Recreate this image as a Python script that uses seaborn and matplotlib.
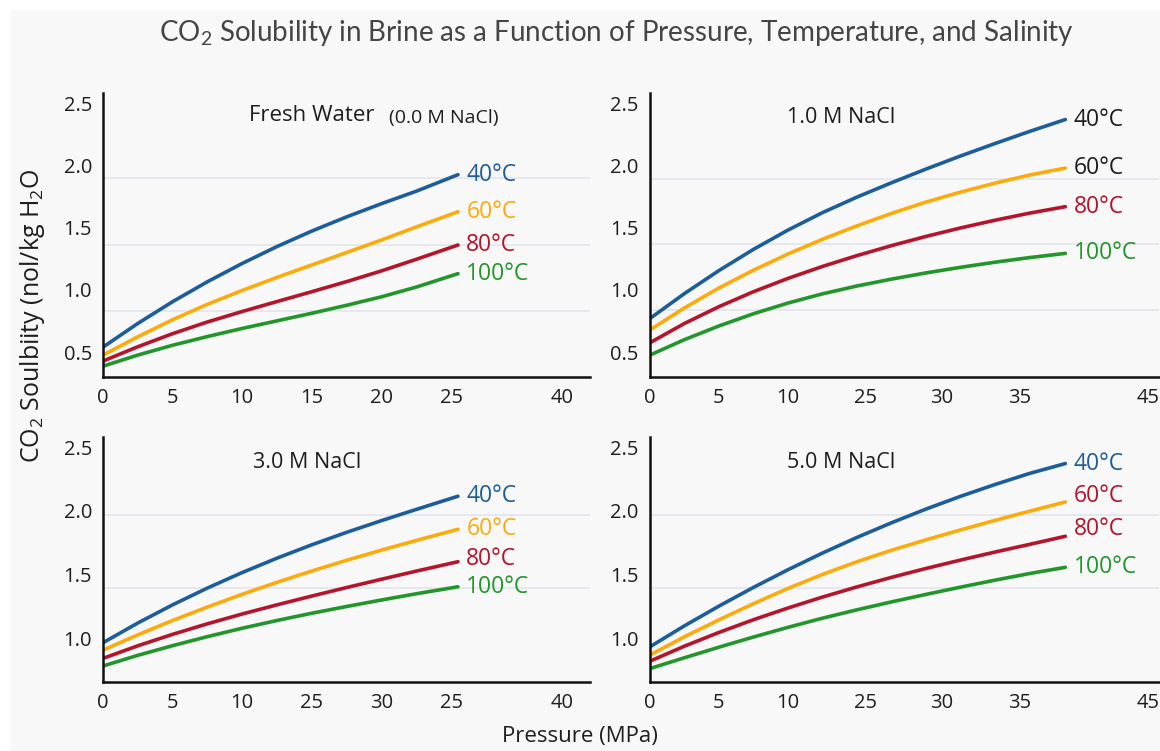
import seaborn as sns
import matplotlib.pyplot as plt
import matplotlib.patches as mpatches
import pandas as pd

# pressure positions along each panel's axis
pressure_left = [0, 2.5, 5, 7.5, 10, 12.5, 15, 17.5, 20, 22.5, 25.5]
pressure_right = [0, 2.5, 5, 7.5, 10, 12.5, 15, 17.5, 20, 22.5, 25, 27.5, 30.1]

temps = ["40°C", "60°C", "80°C", "100°C"]

# solubility curves (mol/kg H2O)
fresh = {
    "40°C": [0.54, 0.73, 0.905, 1.065, 1.212, 1.348, 1.472, 1.586, 1.692, 1.792, 1.925],
    "60°C": [0.476, 0.623, 0.76, 0.884, 0.995, 1.10, 1.20, 1.30, 1.40, 1.505, 1.627],
    "80°C": [0.428, 0.543, 0.648, 0.742, 0.826, 0.906, 0.985, 1.066, 1.152, 1.245, 1.36],
    "100°C": [0.387, 0.476, 0.555, 0.625, 0.69, 0.751, 0.812, 0.876, 0.944, 1.022, 1.13],
}
nacl_1 = {
    "40°C": [0.77, 0.97, 1.155, 1.325, 1.48, 1.62, 1.745, 1.86, 1.97, 2.075, 2.175, 2.272, 2.368],
    "60°C": [0.678, 0.855, 1.015, 1.158, 1.288, 1.406, 1.514, 1.614, 1.705, 1.785, 1.857, 1.922, 1.978],
    "80°C": [0.575, 0.73, 0.865, 0.985, 1.092, 1.188, 1.275, 1.355, 1.429, 1.497, 1.559, 1.616, 1.668],
    "100°C": [0.476, 0.60, 0.71, 0.808, 0.894, 0.968, 1.031, 1.086, 1.136, 1.181, 1.222, 1.259, 1.293],
}
nacl_3 = {
    "40°C": [0.963, 1.118, 1.261, 1.393, 1.515, 1.628, 1.733, 1.831, 1.923, 2.011, 2.115],
    "60°C": [0.905, 1.025, 1.138, 1.244, 1.344, 1.438, 1.527, 1.611, 1.691, 1.767, 1.855],
    "80°C": [0.84, 0.939, 1.029, 1.112, 1.189, 1.261, 1.33, 1.397, 1.462, 1.526, 1.60],
    "100°C": [0.78, 0.864, 0.94, 1.011, 1.077, 1.138, 1.195, 1.248, 1.299, 1.348, 1.403],
}
nacl_5 = {
    "40°C": [0.931, 1.096, 1.251, 1.398, 1.537, 1.668, 1.791, 1.906, 2.014, 2.114, 2.207, 2.294, 2.372],
    "60°C": [0.866, 1.01, 1.143, 1.27, 1.39, 1.50, 1.60, 1.69, 1.772, 1.85, 1.925, 1.997, 2.07],
    "80°C": [0.818, 0.936, 1.044, 1.144, 1.236, 1.322, 1.402, 1.477, 1.547, 1.613, 1.676, 1.736, 1.80],
    "100°C": [0.76, 0.845, 0.928, 1.008, 1.084, 1.156, 1.222, 1.284, 1.343, 1.40, 1.455, 1.507, 1.556],
}

xtick_labels_tl = ["0", "5", "10", "15", "20", "25", "40"]
xtick_labels_bl = ["0", "5", "10", "25", "30", "25", "40"]
xtick_labels_r = ["0", "5", "10", "25", "30", "35", "45"]
ytick_labels = ["0.5", "1.0", "1.5", "2.0", "2.5"]

BLUE, ORANGE, RED, GREEN, INK = "#1c5d9c", "#fdaa0c", "#b4152a", "#22962a", "#1e1e1e"
line_colors = {"40°C": BLUE, "60°C": ORANGE, "80°C": RED, "100°C": GREEN}

sns.set_theme(style="white")
plt.rcParams["font.family"] = ["Open Sans", "DejaVu Sans"]
plt.rcParams["mathtext.default"] = "regular"

bg = "#f8f8f8"
fig = plt.figure(figsize=(11.6, 7.51), dpi=100, facecolor="white")
fig.patches.append(mpatches.Rectangle((10 / 1160, 0), 1, 1 - 10 / 751, transform=fig.transFigure,
                                      facecolor=bg, edgecolor="none", zorder=-10))

ax_tl = fig.add_axes([0.0888, 0.498, 0.420, 0.378])
ax_tr = fig.add_axes([0.5603, 0.498, 0.439, 0.378])
ax_bl = fig.add_axes([0.0888, 0.092, 0.420, 0.326])
ax_br = fig.add_axes([0.5603, 0.092, 0.439, 0.326])

left_ticks = [0, 5, 10, 15, 20, 25, 32.95]
right_ticks = [0, 5, 10, 15.65, 21.15, 26.8, 36.1]

panels = [
    (ax_tl, fresh, pressure_left, xtick_labels_tl, left_ticks, 35.0,
     (0.30, 2.58), [1.895, 1.36, 0.83], [0.5, 1.0, 1.5, 2.0, 2.5],
     {"40°C": BLUE, "60°C": ORANGE, "80°C": RED, "100°C": GREEN}, [0, 0, 0, 0]),
    (ax_tr, nacl_1, pressure_right, xtick_labels_r, right_ticks, 36.9,
     (0.30, 2.58), [1.89, 1.37, 0.84], [0.5, 1.0, 1.5, 2.0, 2.5],
     {"40°C": INK, "60°C": INK, "80°C": RED, "100°C": GREEN}, [0, 0, 0, 0]),
    (ax_bl, nacl_3, pressure_left, xtick_labels_bl, left_ticks, 35.0,
     (0.655, 2.58), [1.97, 1.39], [1.0, 1.5, 2.0, 2.5],
     {"40°C": BLUE, "60°C": ORANGE, "80°C": RED, "100°C": GREEN}, [0, 0, 2, 0]),
    (ax_br, nacl_5, pressure_right, xtick_labels_r, right_ticks, 36.9,
     (0.655, 2.58), [1.97, 1.39], [1.0, 1.5, 2.0, 2.5],
     {"40°C": BLUE, "60°C": RED, "80°C": RED, "100°C": GREEN}, [0, 4, 5, 0]),
]

for ax, curves, xs, xlabels, xpos, xmax, ylim, grid_y, yticks, label_colors, dys in panels:
    ax.set_facecolor(bg)
    for gy in grid_y:
        ax.axhline(gy, color="#e2e7ee", lw=1.2, zorder=0)
    rows = []
    for t in temps:
        for x, v in zip(xs, curves[t]):
            rows.append({"pressure": x, "sol": v, "temp": t})
    df = pd.DataFrame(rows)
    sns.lineplot(data=df, x="pressure", y="sol", hue="temp", palette=line_colors,
                 lw=2.6, legend=False, ax=ax)
    for t, dy in zip(temps, dys):
        ax.annotate(t, (xs[-1], curves[t][-1]), xytext=(6, dy), textcoords="offset points",
                    ha="left", va="center", fontsize=16.5, color=label_colors[t])
    ax.set_xlim(0, xmax)
    ax.set_ylim(*ylim)
    ax.set_xticks(xpos)
    ax.set_xticklabels(xlabels, fontsize=14.5, color=INK)
    ax.set_yticks(yticks)
    ax.set_yticklabels(ytick_labels[-len(yticks):], fontsize=14.5, color=INK)
    ax.tick_params(length=0, pad=8)
    ax.set_xlabel("")
    ax.set_ylabel("")
    for s in ["top", "right"]:
        ax.spines[s].set_visible(False)
    for s in ["left", "bottom"]:
        ax.spines[s].set_color("#111111")
        ax.spines[s].set_linewidth(1.8)

ax_tl.text(0.30, 0.92, "Fresh Water", transform=ax_tl.transAxes, fontsize=16,
           color=INK, va="center")
ax_tl.text(0.588, 0.912, "(0.0 M NaCl)", transform=ax_tl.transAxes, fontsize=14,
           color=INK, va="center")
ax_tr.text(0.269, 0.915, "1.0 M NaCl", transform=ax_tr.transAxes, fontsize=15.5,
           color=INK, va="center")
ax_bl.text(0.307, 0.898, "3.0 M NaCl", transform=ax_bl.transAxes, fontsize=15.5,
           color=INK, va="center")
ax_br.text(0.269, 0.898, "5.0 M NaCl", transform=ax_br.transAxes, fontsize=15.5,
           color=INK, va="center")

fig.text(0.531, 0.956, "CO$_2$ Solubility in Brine as a Function of Pressure, Temperature, and Salinity",
         ha="center", va="center", fontsize=20, color="#454545",
         family=["Lato", "DejaVu Sans"])
fig.text(0.028, 0.58, "CO$_2$ Soulbiity (nol/kg H$_2$O", rotation=90, ha="center", va="center",
         fontsize=18, color=INK)
fig.text(0.5, 0.019, "Pressure (MPa)", ha="center", va="center", fontsize=16, color=INK)

fig.savefig("out.png", dpi=100, facecolor="white")
